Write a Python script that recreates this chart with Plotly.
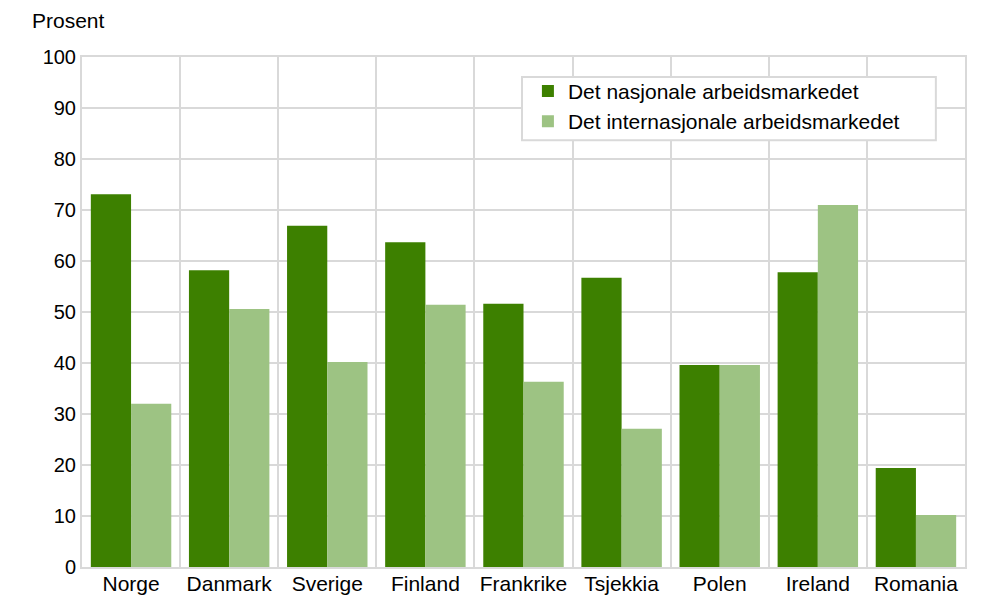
import plotly.graph_objects as go

land = ["Norge", "Danmark", "Sverige", "Finland", "Frankrike", "Tsjekkia", "Polen", "Ireland", "Romania"]
nasjonalt = [73.1, 58.2, 66.9, 63.7, 51.6, 56.7, 39.6, 57.8, 19.4]
internasjonalt = [32.0, 50.6, 40.2, 51.4, 36.3, 27.1, 39.6, 71.0, 10.2]

font = "Liberation Sans, Arial, sans-serif"
grid = "#d9d9d9"

fig = go.Figure()
fig.add_trace(go.Bar(x=land, y=nasjonalt, name="Det nasjonale arbeidsmarkedet",
                     marker=dict(color="#3d8000", line=dict(width=0))))
fig.add_trace(go.Bar(x=land, y=internasjonalt, name="Det internasjonale arbeidsmarkedet",
                     marker=dict(color="#9dc383", line=dict(width=0))))

# page body has an 8px margin, so the figure is a bit smaller and shifted
fig.update_layout(
    width=990, height=587,
    margin=dict(l=74, r=33, t=49, b=28),
    plot_bgcolor="white", paper_bgcolor="white",
    font=dict(family=font, size=21, color="#000000"),
    barmode="group", bargap=0.18, bargroupgap=0,
    legend=dict(x=0.505, y=0.973, xanchor="left", yanchor="top",
                bgcolor="rgba(0,0,0,0)", borderwidth=0,
                font=dict(size=21), itemwidth=30, tracegroupgap=0),
    xaxis=dict(tickson="boundaries", showgrid=True, gridcolor=grid, gridwidth=2,
               ticks="", showline=True, linecolor=grid, linewidth=2, mirror=True,
               tickfont=dict(size=21), ticklabelstandoff=-3, automargin=False),
    yaxis=dict(range=[0, 100], dtick=10, showgrid=True, gridcolor=grid, gridwidth=2,
               showline=True, linecolor=grid, linewidth=2, mirror=True,
               ticks="", zeroline=False, tickfont=dict(size=20), automargin=False),
    showlegend=True,
)
# legend frame
fig.add_shape(type="rect", xref="paper", yref="paper", x0=0.4983, x1=0.967, y0=0.837, y1=0.961,
              line=dict(color=grid, width=2), fillcolor="white", layer="above")
fig.add_annotation(text="Prosent", xref="paper", yref="paper", x=-0.059, y=1.045,
                   xanchor="left", yanchor="bottom", showarrow=False, font=dict(size=21))

fig.write_html("out.html")
